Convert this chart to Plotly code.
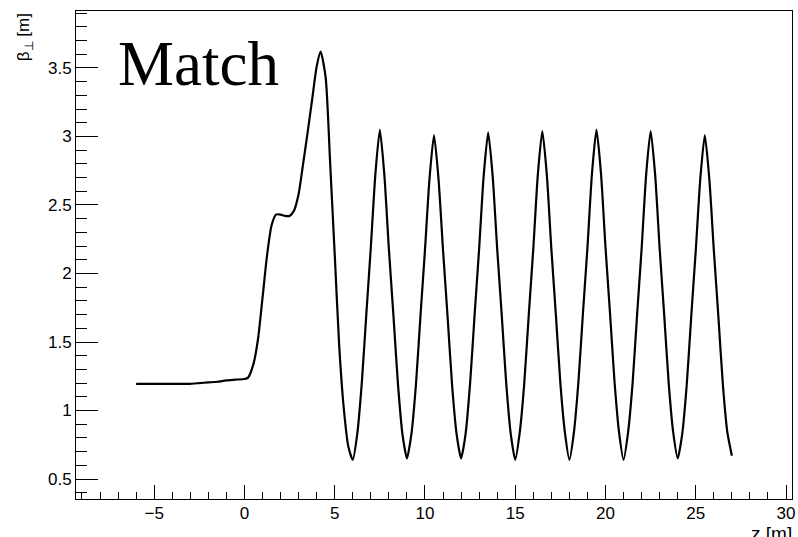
import plotly.graph_objects as go

# ---- data ----
z_m = [-6.0, -5.0, -4.0, -3.0, -2.5, -2.0, -1.5, -1.0, -0.5, 0.0, 0.2,
       0.5, 0.75, 1.0, 1.25, 1.5, 1.75, 2.0, 2.25, 2.5, 2.75, 3.0,
       3.25, 3.5, 3.75, 4.0, 4.22, 4.5, 4.75, 5.0, 5.25, 5.5, 5.75, 6.0,
       6.25, 6.5, 6.75, 7.0, 7.25, 7.5, 7.75, 8.0, 8.25, 8.5, 8.75, 9.0,
       9.25, 9.5, 9.75, 10.0, 10.25, 10.5, 10.75, 11.0, 11.25, 11.5, 11.75, 12.0,
       12.25, 12.5, 12.75, 13.0, 13.25, 13.5, 13.75, 14.0, 14.25, 14.5, 14.75, 15.0,
       15.25, 15.5, 15.75, 16.0, 16.25, 16.5, 16.75, 17.0, 17.25, 17.5, 17.75, 18.0,
       18.25, 18.5, 18.75, 19.0, 19.25, 19.5, 19.75, 20.0, 20.25, 20.5, 20.75, 21.0,
       21.25, 21.5, 21.75, 22.0, 22.25, 22.5, 22.75, 23.0, 23.25, 23.5, 23.75, 24.0,
       24.25, 24.5, 24.75, 25.0, 25.25, 25.5, 25.75, 26.0, 26.25, 26.5, 26.75, 27.0]

beta_perp_m = [1.195, 1.195, 1.195, 1.195, 1.20, 1.205, 1.21, 1.22, 1.225, 1.23, 1.24,
               1.34, 1.52, 1.82, 2.13, 2.35, 2.43, 2.43, 2.42, 2.42, 2.46, 2.58,
               2.80, 3.03, 3.27, 3.51, 3.62, 3.43, 2.80, 2.14, 1.47, 1.02, 0.74, 0.64,
               0.83, 1.20, 1.70, 2.19, 2.72, 3.05, 2.72, 2.18, 1.70, 1.20, 0.83, 0.65,
               0.83, 1.19, 1.69, 2.17, 2.69, 3.01, 2.69, 2.17, 1.69, 1.19, 0.83, 0.65,
               0.83, 1.20, 1.70, 2.18, 2.71, 3.03, 2.71, 2.18, 1.70, 1.20, 0.83, 0.64,
               0.84, 1.20, 1.70, 2.18, 2.72, 3.04, 2.72, 2.18, 1.70, 1.20, 0.84, 0.64,
               0.84, 1.21, 1.71, 2.19, 2.73, 3.05, 2.73, 2.19, 1.71, 1.21, 0.84, 0.64,
               0.84, 1.20, 1.70, 2.18, 2.72, 3.04, 2.72, 2.18, 1.70, 1.20, 0.84, 0.65,
               0.83, 1.19, 1.69, 2.17, 2.69, 3.01, 2.69, 2.17, 1.69, 1.19, 0.84, 0.67]

x_range = [-9.33, 30.33]
y_range = [0.354, 3.916]
plot_label = "Match"
x_title = "z [m]"
y_title = "β<sub>⊥</sub> [m]"

W, H = 798, 537
L, R, T, B = 76, 3, 11, 38
pw, ph = W - L - R, H - T - B

def px_to_paper_x(px):
    return (px - L) / pw

def px_to_paper_y(py):
    return (H - B - py) / ph

fig = go.Figure()
fig.add_trace(go.Scatter(x=z_m, y=beta_perp_m, mode="lines",
                         line=dict(color="black", width=2.2, shape="spline", smoothing=0.6),
                         showlegend=False, hoverinfo="skip"))

tickfont = dict(family="Liberation Sans, Arial, sans-serif", size=17, color="black")

fig.update_layout(
    width=W, height=H, autosize=False,
    margin=dict(l=L, r=R, t=T, b=B, pad=0),
    paper_bgcolor="white", plot_bgcolor="white",
    xaxis=dict(range=x_range, showgrid=False, zeroline=False,
               showline=True, mirror=True, linecolor="black", linewidth=1,
               ticks="inside", ticklen=14, tickwidth=1, tickcolor="black",
               tick0=0, dtick=5, tickfont=tickfont, ticklabeloverflow="allow",
               ticklabelstandoff=-1,
               minor=dict(ticks="inside", ticklen=7, tickwidth=1, tickcolor="black",
                          dtick=1, tick0=0, showgrid=False)),
    yaxis=dict(range=y_range, showgrid=False, zeroline=False,
               showline=True, mirror=True, linecolor="black", linewidth=1,
               ticks="inside", ticklen=22, tickwidth=1, tickcolor="black",
               tick0=0, dtick=0.5, tickfont=tickfont, ticklabeloverflow="allow",
               minor=dict(ticks="inside", ticklen=11, tickwidth=1, tickcolor="black",
                          dtick=0.1, tick0=0, showgrid=False)),
)

fig.add_annotation(text=plot_label, xref="paper", yref="paper",
                   x=px_to_paper_x(116), y=px_to_paper_y(64),
                   xanchor="left", yanchor="middle", showarrow=False,
                   font=dict(family="Liberation Serif, Times New Roman, serif", size=63, color="black"))

fig.add_annotation(text=y_title, xref="paper", yref="paper",
                   x=px_to_paper_x(25), y=px_to_paper_y(37),
                   xanchor="center", yanchor="middle", textangle=-90, showarrow=False,
                   font=dict(family="Liberation Sans, Arial, sans-serif", size=17, color="black"))

fig.add_annotation(text=x_title, xref="paper", yref="paper",
                   x=px_to_paper_x(797), y=px_to_paper_y(521),
                   xanchor="right", yanchor="top", showarrow=False,
                   font=dict(family="Liberation Sans, Arial, sans-serif", size=19, color="black"))

fig.write_html("out.html")
